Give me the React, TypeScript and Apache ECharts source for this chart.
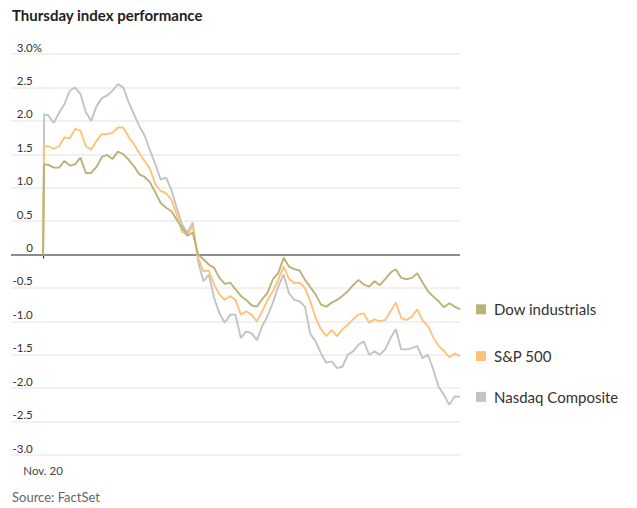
import React, { useEffect, useRef } from "react";
import * as echarts from "echarts";

// minutes since the 9:30 open
const minutes = [0, 1, 5, 10, 15, 20, 25, 30, 35, 40, 45, 50, 55, 60, 65, 70, 75, 80, 85, 90, 95, 100, 105, 110, 115, 120, 125, 130, 135, 140, 145, 150, 155, 160, 165, 170, 175, 180, 185, 190, 195, 200, 205, 210, 215, 220, 225, 230, 235, 240, 245, 250, 255, 260, 265, 270, 275, 280, 285, 290, 295, 300, 305, 310, 315, 320, 325, 330, 335, 340, 345, 350, 355, 360, 365, 370, 375, 380, 385, 390];

const nasdaq = [0, 2.10, 2.08, 1.97, 2.12, 2.25, 2.45, 2.50, 2.40, 2.13, 2.00, 2.22, 2.34, 2.38, 2.45, 2.55, 2.50, 2.28, 2.10, 1.92, 1.78, 1.56, 1.35, 1.12, 1.15, 0.97, 0.70, 0.45, 0.33, 0.48, -0.10, -0.40, -0.30, -0.65, -0.88, -1.02, -0.90, -0.90, -1.25, -1.15, -1.18, -1.28, -1.07, -0.92, -0.72, -0.48, -0.30, -0.58, -0.68, -0.70, -0.78, -1.19, -1.30, -1.48, -1.62, -1.60, -1.70, -1.68, -1.50, -1.45, -1.35, -1.30, -1.50, -1.45, -1.50, -1.42, -1.25, -1.12, -1.42, -1.42, -1.40, -1.37, -1.55, -1.50, -1.72, -1.98, -2.10, -2.25, -2.12, -2.13];

const sp500 = [0, 1.62, 1.62, 1.58, 1.62, 1.75, 1.74, 1.88, 1.85, 1.62, 1.57, 1.70, 1.80, 1.80, 1.82, 1.90, 1.90, 1.76, 1.65, 1.52, 1.40, 1.28, 1.05, 0.95, 0.92, 0.82, 0.60, 0.34, 0.30, 0.42, -0.05, -0.25, -0.24, -0.45, -0.60, -0.68, -0.62, -0.68, -0.90, -0.85, -0.90, -1.00, -0.85, -0.68, -0.55, -0.38, -0.18, -0.36, -0.43, -0.42, -0.50, -0.70, -0.95, -1.12, -1.22, -1.13, -1.22, -1.12, -1.05, -0.97, -0.90, -0.88, -1.02, -0.97, -1.00, -0.98, -0.85, -0.72, -0.95, -0.98, -0.93, -0.82, -0.99, -1.07, -1.24, -1.37, -1.44, -1.54, -1.48, -1.52];

const dow = [0, 1.35, 1.34, 1.30, 1.30, 1.40, 1.33, 1.35, 1.45, 1.22, 1.22, 1.31, 1.46, 1.49, 1.43, 1.54, 1.50, 1.42, 1.32, 1.20, 1.16, 1.08, 0.93, 0.77, 0.70, 0.65, 0.52, 0.40, 0.28, 0.33, 0.00, -0.07, -0.15, -0.20, -0.35, -0.44, -0.42, -0.52, -0.62, -0.68, -0.76, -0.78, -0.67, -0.57, -0.37, -0.28, -0.05, -0.18, -0.22, -0.24, -0.38, -0.49, -0.60, -0.75, -0.78, -0.72, -0.68, -0.62, -0.55, -0.46, -0.38, -0.45, -0.48, -0.40, -0.46, -0.37, -0.27, -0.22, -0.35, -0.37, -0.35, -0.28, -0.42, -0.55, -0.63, -0.70, -0.79, -0.73, -0.78, -0.82];

const seriesNames = ["Nasdaq Composite", "S&P 500", "Dow industrials"];
const seriesColors = ["#c3c3c3", "#ffc27a", "#bbb276"];
const seriesValues = [nasdaq, sp500, dow];

const xTickValues = [0];
const xTickLabels = ["Nov. 20"];

const FONT = "Lato, 'Noto Sans', sans-serif";

export default function App() {
  const ref = useRef<HTMLDivElement>(null);

  useEffect(() => {
    document.body.style.margin = "0";
    if (!ref.current) return;
    const chart = echarts.init(ref.current, undefined, { renderer: "svg" });

    const series = seriesValues.map((vals, i) => {
      const s: any = {
        name: seriesNames[i],
        type: "line",
        data: minutes.map((m, j) => [m, vals[j]]),
        symbol: "none",
        lineStyle: { color: seriesColors[i], width: 1.9 },
        itemStyle: { color: seriesColors[i] },
        z: 3 + i,
        endLabel: {
          show: true,
          distance: 16,
          formatter: "{s|}{t|" + seriesNames[i] + "}",
          rich: {
            s: {
              backgroundColor: seriesColors[i],
              width: 10,
              height: 10,
              verticalAlign: "middle",
            },
            t: {
              fontSize: 15,
              color: "#333",
              fontFamily: FONT,
              padding: [0, 0, 0, 8],
              verticalAlign: "middle",
            },
          },
        },
      };
      if (i === 0) {
        s.markLine = {
          silent: true,
          symbol: "none",
          label: { show: false },
          lineStyle: { color: "#8c8c8c", width: 2, type: "solid" },
          data: [{ yAxis: 0 }],
          z: 2,
        };
      }
      return s;
    });

    chart.setOption({
      animation: false,
      textStyle: { fontFamily: FONT },
      title: {
        text: "Thursday index performance",
        left: 12,
        top: 7,
        padding: 0,
        textStyle: { fontSize: 15, fontWeight: "bold", color: "#222", fontFamily: FONT },
      },
      grid: { left: 11, top: 54, width: 449, height: 401, containLabel: false },
      xAxis: {
        type: "value",
        min: -30,
        max: 390,
        axisLine: { show: false },
        splitLine: { show: false },
        axisTick: {
          show: true,
          customValues: xTickValues,
          length: 4,
          lineStyle: { color: "#333", width: 1.2 },
        },
        axisLabel: {
          customValues: xTickValues,
          formatter: (v: number) => {
            const k = xTickValues.indexOf(v);
            return k >= 0 ? xTickLabels[k] : "";
          },
          color: "#444",
          fontSize: 11.5,
          margin: 9,
          fontFamily: FONT,
        },
      },
      yAxis: {
        type: "value",
        min: -3,
        max: 3,
        interval: 0.5,
        axisLine: { show: false },
        axisTick: { show: false },
        splitLine: { lineStyle: { color: "#ececec", width: 1.5 } },
        axisLabel: {
          inside: true,
          align: "right",
          verticalAlign: "bottom",
          margin: 31,
          padding: [0, 0, 1, 0],
          formatter: (v: number) => {
            const txt = v === 0 ? "0" : v.toFixed(1);
            return v === 3 ? "{n|" + txt + "}{p|%}" : "{n|" + txt + "}{h|%}";
          },
          rich: {
            n: { fontSize: 11.5, color: "#333", fontFamily: FONT },
            p: { fontSize: 11.5, color: "#333", fontFamily: FONT },
            h: { fontSize: 11.5, color: "rgba(0,0,0,0)", fontFamily: FONT },
          },
        },
      },
      graphic: [
        {
          type: "text",
          left: 12,
          top: 490,
          style: { text: "Source: FactSet", fontSize: 13, fill: "#666", fontFamily: FONT },
        },
      ],
      series,
    });

    return () => chart.dispose();
  }, []);

  return <div ref={ref} style={{ width: 637, height: 508 }} />;
}
